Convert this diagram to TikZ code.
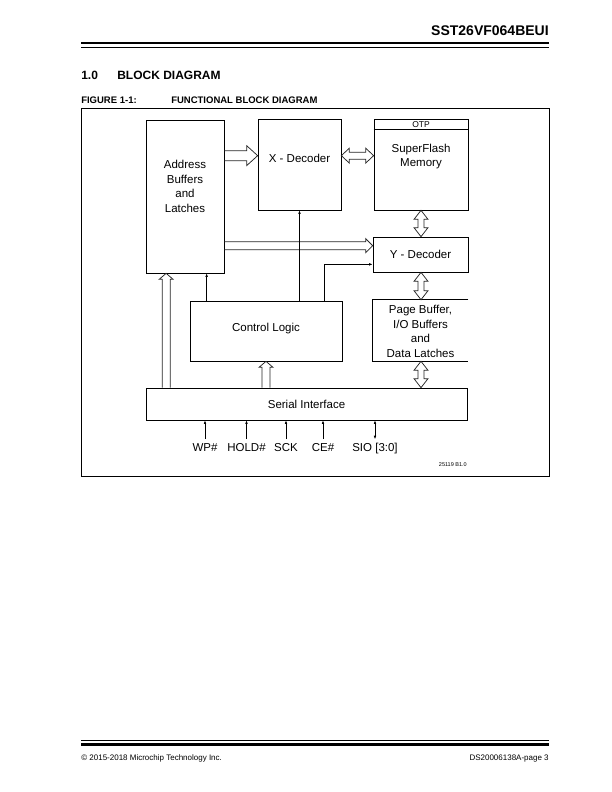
\documentclass[tikz,border=0pt]{standalone}
\usepackage{fontspec}
\setmainfont{Liberation Sans}
\usetikzlibrary{arrows.meta,calc,positioning}

\newcommand{\blockfont}{\fontsize{11.5}{14.5}\selectfont}
\tikzset{
  block/.style={draw,line width=0.7pt,inner sep=0pt,font=\blockfont},
  blocktext/.style={align=center,font=\blockfont,inner sep=0pt},
  fatline/.style={draw=black!85,line width=0.75pt,line join=miter},
  pin/.style={font=\blockfont,inner sep=0pt,text height=8.5pt,text depth=2.5pt},
  rule/.style={line width=#1,line cap=butt}
}
% hollow arrow: tail, tip, shaft half width, head half width, head length
\newcommand{\fatarrow}[5]{%
  \draw[fatline] let \p1=(#1), \p2=(#2), \p3=($(\p2)-(\p1)$), \n1={atan2(\y3,\x3)} in
    ($(\p1)+(\n1+90:#3)$) -- ($(\p2)+(\n1+180:#5)+(\n1+90:#3)$)
    -- ($(\p2)+(\n1+180:#5)+(\n1+90:#4)$) -- (\p2)
    -- ($(\p2)+(\n1+180:#5)+(\n1-90:#4)$) -- ($(\p2)+(\n1+180:#5)+(\n1-90:#3)$)
    -- ($(\p1)+(\n1-90:#3)$);
}
\newcommand{\fatdarrow}[5]{%
  \draw[fatline] let \p1=(#1), \p2=(#2), \p3=($(\p2)-(\p1)$), \n1={atan2(\y3,\x3)} in
    (\p1) -- ($(\p1)+(\n1:#5)+(\n1+90:#4)$) -- ($(\p1)+(\n1:#5)+(\n1+90:#3)$)
    -- ($(\p2)+(\n1+180:#5)+(\n1+90:#3)$) -- ($(\p2)+(\n1+180:#5)+(\n1+90:#4)$)
    -- (\p2) -- ($(\p2)+(\n1+180:#5)+(\n1-90:#4)$) -- ($(\p2)+(\n1+180:#5)+(\n1-90:#3)$)
    -- ($(\p1)+(\n1:#5)+(\n1-90:#3)$) -- ($(\p1)+(\n1:#5)+(\n1-90:#4)$) -- cycle;
}

\begin{document}
\begin{tikzpicture}[x=1pt,y=-1pt,>={Latex[length=3.5pt,width=2.6pt]},semithick]
\useasboundingbox (0,0) rectangle (612,792);

\node[anchor=base east,inner sep=0pt,font=\fontsize{14}{16}\selectfont\bfseries] (title) at (549,36) {SST26VF064BEUI};
\draw[rule=2.7pt] (81,43) -- (549,43);
\draw[rule=1pt] (81,47.2) -- (549,47.2);
\node[anchor=base west,inner sep=0pt,font=\fontsize{12}{14}\selectfont\bfseries] (secnum) at (81,79.5) {1.0};
\node[anchor=base west,inner sep=0pt,font=\fontsize{12}{14}\selectfont\bfseries] (sec) at (117,79.5) {BLOCK DIAGRAM};
\node[anchor=base west,inner sep=0pt,font=\fontsize{9.5}{11}\selectfont\bfseries] (fignum) at (81,103.5) {FIGURE 1-1:};
\node[anchor=base west,inner sep=0pt,font=\fontsize{9.5}{11}\selectfont\bfseries] (fig) at (171,103.5) {FUNCTIONAL BLOCK DIAGRAM};
\draw[line width=0.8pt] (81,108) rectangle (549,476);

\node[block,minimum width=78,minimum height=153] (addr) at (185,196.5) {};
\node[blocktext] (addrtxt) at ($(addr.center)+(0,-10)$) {Address\\Buffers\\and\\Latches};
\node[block,minimum width=83,minimum height=91] (xdec) at (299.5,164.5) {};
\node[blocktext] (xdectxt) at ($(xdec.center)+(0,-6)$) {X - Decoder};
\node[block,minimum width=94,minimum height=91] (flash) at (421,164.5) {};
\draw[line width=0.7pt] ($(flash.north west)+(0,11)$) -- ($(flash.north east)+(0,11)$);
\node[blocktext,font=\fontsize{8.5}{10}\selectfont] (otp) at ($(flash.north)+(0,5.5)$) {OTP};
\node[blocktext] (flashtxt) at ($(flash.center)+(0,-8)$) {SuperFlash\\Memory};
\node[block,minimum width=95,minimum height=35] (ydec) at (420.5,254.5) {Y - Decoder};
\node[inner sep=0pt,minimum width=95,minimum height=61] (pbuf) at (420.5,330.5) {};
\draw[line width=0.7pt] (pbuf.north east) -- (pbuf.north west) -- (pbuf.south west) -- (pbuf.south east);
\node[blocktext] (pbuftxt) at ($(pbuf.center)+(0,0.7)$) {Page Buffer,\\I/O Buffers\\and\\Data Latches};
\node[block,minimum width=152,minimum height=60] (ctrl) at (266,331) {};
\node[blocktext] (ctrltxt) at ($(ctrl.center)+(0,-2)$) {Control Logic};
\node[block,minimum width=321,minimum height=32] (serial) at (306.5,404) {Serial Interface};

\coordinate (xin) at ($(xdec.north west)+(0,37)$);
\coordinate (yin) at ($(ydec.north west)+(0,9)$);
\coordinate (ctl) at ($(ydec.south west)+(0,-8)$);
\coordinate (aup) at ($(addr.south west)+(20.5,0)$);

\fatarrow{addr.east |- xin}{xin}{5pt}{10pt}{11pt}
\fatdarrow{xdec.east |- xin}{flash.west |- xin}{3.5pt}{7.5pt}{8pt}
\fatdarrow{flash.south}{ydec.north -| flash.south}{3pt}{7pt}{9pt}
\fatdarrow{ydec.south -| flash.south}{pbuf.north -| flash.south}{3pt}{7pt}{9pt}
\fatdarrow{pbuf.south -| flash.south}{serial.north -| flash.south}{3pt}{7pt}{9pt}
\fatarrow{addr.east |- yin}{yin}{4pt}{7pt}{7pt}
\fatarrow{serial.north -| aup}{aup}{4pt}{7pt}{6pt}
\fatarrow{serial.north -| ctrl.south}{ctrl.south}{4pt}{7pt}{6pt}

\draw[->] (ctrl.north -| xdec.south) -- (xdec.south);
\draw[->] ($(ctrl.north east)+(-18,0)$) |- (ctl);
\draw[->] ($(ctrl.north west)+(17,0)$) -- ($(addr.south west)+(61,0)$);

\node[pin] (wp) at (205,448) {WP\#};
\node[pin] (hold) at (246.5,448) {HOLD\#};
\node[pin] (sck) at (286,448) {SCK};
\node[pin] (ce) at (323,448) {CE\#};
\node[pin] (sio) at (375,448) {SIO [3:0]};
\foreach \p in {wp,hold,sck,ce}
  \draw[->] ($(\p.north)+(0,-3)$) -- (\p.north |- serial.south);
\draw[<->] ($(sio.north)+(0,-3)$) -- (sio.north |- serial.south);
\node[anchor=east,inner sep=0pt,font=\fontsize{5.5}{6.5}\selectfont] (code) at (467,465) {25119 B1.0};

\draw[rule=1pt] (81,740.3) -- (549,740.3);
\draw[rule=2.7pt] (81,744.7) -- (549,744.7);
\node[anchor=base west,inner sep=0pt,font=\fontsize{8}{10}\selectfont] (copy) at (81,760) {© 2015-2018 Microchip Technology Inc.};
\node[anchor=base east,inner sep=0pt,font=\fontsize{8}{10}\selectfont] (page) at (549,760) {DS20006138A-page 3};
\end{tikzpicture}
\end{document}
